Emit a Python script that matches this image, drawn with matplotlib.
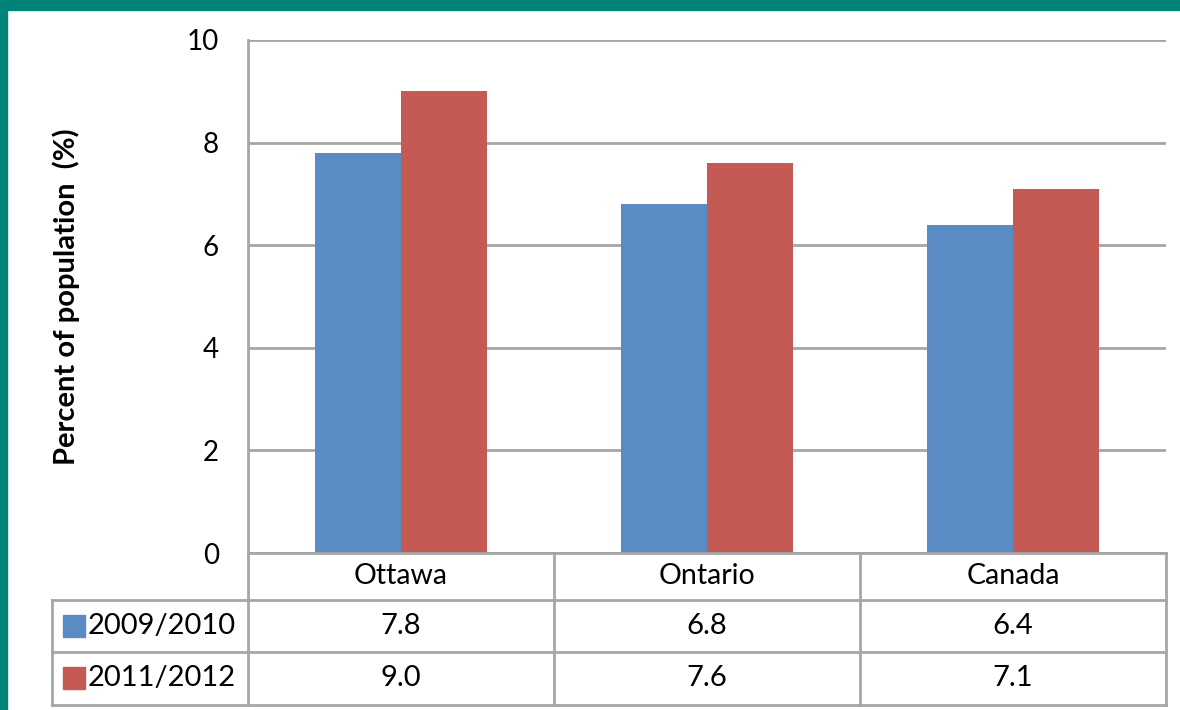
import matplotlib.pyplot as plt
from matplotlib.patches import Rectangle

categories = ["Ottawa", "Ontario", "Canada"]
series = ["2009/2010", "2011/2012"]
vals_0910 = [7.8, 6.8, 6.4]
vals_1112 = [9.0, 7.6, 7.1]
colors = ["#5B8BC5", "#C55A55"]
yticks = [0, 2, 4, 6, 8, 10]

plt.rcParams['font.family'] = ['Lato', 'DejaVu Sans']
W, H = 1180, 710
fig = plt.figure(figsize=(W / 100, H / 100), dpi=100)
fig.patch.set_facecolor('white')

# teal frame (top + left)
fig.patches.append(Rectangle((0, 1 - 10 / H), 1, 10 / H, transform=fig.transFigure,
                             color='#00847A', zorder=0))
fig.patches.append(Rectangle((0, 0), 7 / W, 1, transform=fig.transFigure,
                             color='#00847A', zorder=0))

grid_c = '#A6A6A6'
x0, x1, ytop, y0 = 248, 1166, 40, 553
ax = fig.add_axes([x0 / W, 1 - y0 / H, (x1 - x0) / W, (y0 - ytop) / H])
bw = 0.28
xs = range(len(categories))
ax.bar([i - bw / 2 for i in xs], vals_0910, bw, color=colors[0], zorder=3)
ax.bar([i + bw / 2 for i in xs], vals_1112, bw, color=colors[1], zorder=3)
ax.set_xlim(-0.5, len(categories) - 0.5)
ax.set_ylim(0, 10)
ax.set_yticks(yticks)
ax.set_yticklabels([str(t) for t in yticks], fontsize=20)
ax.tick_params(axis='y', length=0, pad=21)
ax.set_xticks([])
for s in ['top', 'right', 'bottom']:
    ax.spines[s].set_visible(False)
ax.spines['left'].set_color(grid_c)
ax.spines['left'].set_linewidth(2)
ax.yaxis.grid(True, color=grid_c, linewidth=2, zorder=0)
ax.set_axisbelow(True)
ax.set_ylabel("Percent of population  (%)", fontsize=21, fontweight='bold', labelpad=77)

# data table below the axis
tl = 52
cw = (x1 - x0) / len(categories)
tax = fig.add_axes([tl / W, 0, (x1 - tl) / W, 1 - y0 / H])
tax.set_xlim(tl, x1)
tax.set_ylim(H, y0)
tax.axis('off')
rows = [553, 600, 652, 705]
lw = 2
# vertical lines
for k in range(len(categories) + 1):
    tax.plot([x0 + k * cw] * 2, [rows[0], rows[-1]], color=grid_c, lw=lw, clip_on=False)
tax.plot([tl, tl], [rows[1], rows[-1]], color=grid_c, lw=lw, clip_on=False)
tax.plot([x0, x1], [rows[0], rows[0]], color=grid_c, lw=lw, clip_on=False)
for r in rows[1:]:
    tax.plot([tl, x1], [r, r], color=grid_c, lw=lw, clip_on=False)

for i, c in enumerate(categories):
    tax.text(x0 + (i + 0.5) * cw, (rows[0] + rows[1]) / 2, c, ha='center', va='center', fontsize=20.5)
for j, (name, vals) in enumerate(zip(series, [vals_0910, vals_1112])):
    yc = (rows[j + 1] + rows[j + 2]) / 2
    tax.add_patch(Rectangle((63, yc - 11), 22, 22, color=colors[j], clip_on=False))
    tax.text(88, yc, name, ha='left', va='center', fontsize=21)
    for i, v in enumerate(vals):
        tax.text(x0 + (i + 0.5) * cw, yc, f"{v:.1f}", ha='center', va='center', fontsize=21)

fig.savefig("out.png", dpi=100)
